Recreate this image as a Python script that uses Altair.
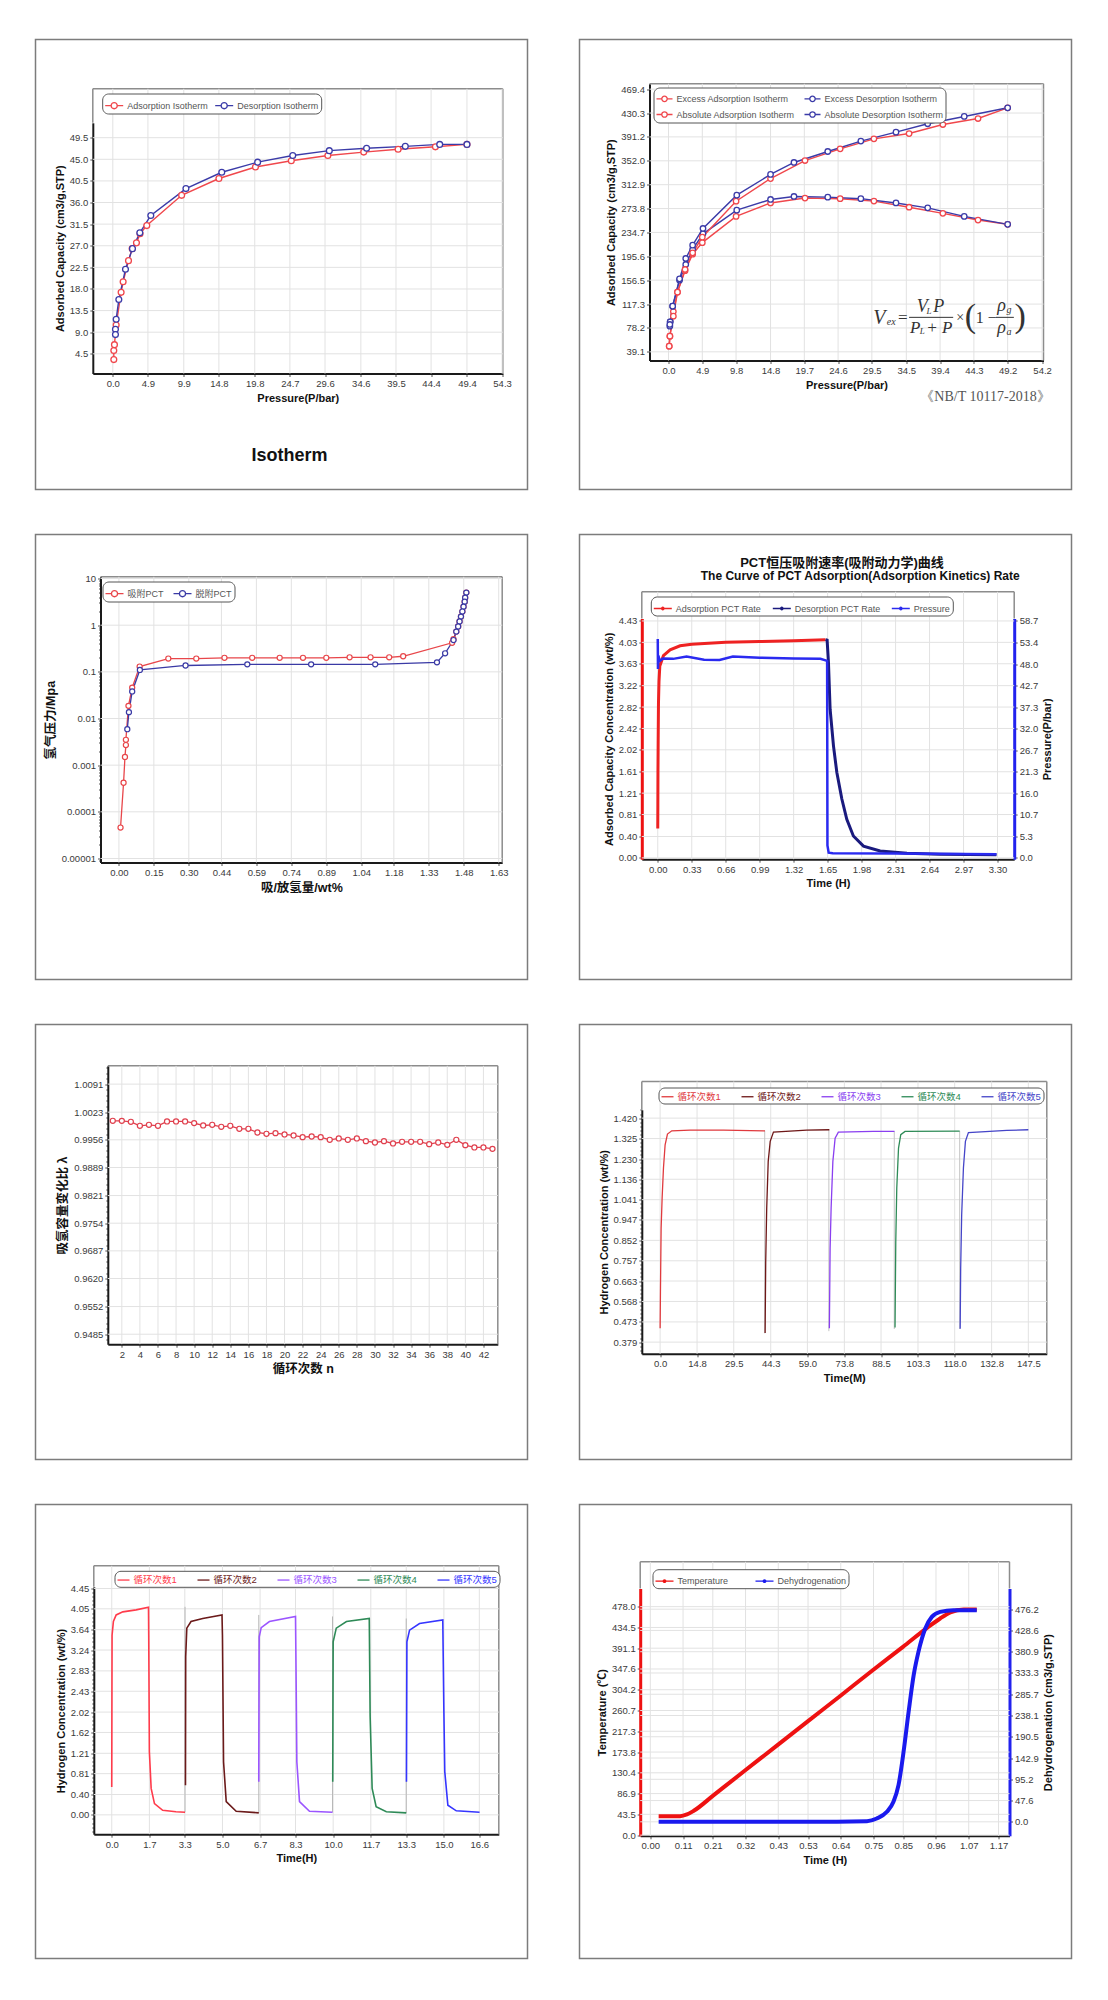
import json
import altair as alt
import pandas as pd

F = "Liberation Sans"
FC = "Liberation Sans, Noto Sans CJK SC"
FS = "Liberation Serif"
ONE = pd.DataFrame({"k": [0]})
PW = 492  # panel (outer box) width
GRID = "#e2e2e2"

# ================= DATA =================
# Panel 1 - Isotherm
P1_SERIES = ["Adsorption Isotherm", "Desorption Isotherm"]
P1_ADS_X = [0.14, 0.14, 0.23, 0.47, 1.16, 1.44, 2.19, 2.70, 3.30, 3.80, 4.74, 9.6, 14.8, 19.9, 24.9, 30.0, 35.0, 39.8, 45.0, 49.4]
P1_ADS_Y = [3.3, 5.2, 6.4, 10.5, 17.3, 19.5, 23.9, 26.4, 27.6, 29.5, 31.2, 37.5, 41.0, 43.4, 44.7, 45.8, 46.5, 47.1, 47.6, 48.1]
P1_DES_X = [49.4, 45.6, 40.8, 35.4, 30.2, 25.1, 20.2, 15.2, 10.2, 5.3, 3.77, 2.74, 1.77, 0.84, 0.47, 0.37, 0.37]
P1_DES_Y = [48.1, 48.1, 47.7, 47.3, 46.8, 45.8, 44.4, 42.3, 38.9, 33.3, 29.7, 26.4, 22.1, 15.8, 11.7, 9.6, 8.5]
P1_XT = [0.0, 4.9, 9.9, 14.8, 19.8, 24.7, 29.6, 34.6, 39.5, 44.4, 49.4, 54.3]
P1_YT = [4.5, 9.0, 13.5, 18.0, 22.5, 27.0, 31.5, 36.0, 40.5, 45.0, 49.5]

# Panel 2 - excess / absolute isotherms
P2_SERIES = ["Excess Adsorption Isotherm", "Excess Desorption Isotherm",
             "Absolute Adsorption Isotherm", "Absolute Desorption Isotherm"]
P2_ADS_X = [0.1, 0.2, 0.7, 1.3, 2.4, 3.5, 4.9, 9.8, 14.8, 19.8, 24.9, 29.8, 34.9, 39.8, 44.9, 49.2]
P2_DES_X = [49.2, 42.9, 37.6, 33.0, 27.9, 23.1, 18.2, 14.8, 9.9, 5.0, 3.5, 2.5, 1.6, 0.6, 0.24, 0.19]
P2_EXA_Y = [48.4, 64.8, 105.0, 137.0, 172.0, 199.0, 218.0, 261.0, 283.0, 291.0, 290.0, 286.0, 276.0, 266.0, 255.0, 248.0]
P2_EXD_Y = [248.0, 261.0, 275.0, 283.0, 290.0, 292.5, 293.6, 288.7, 271.2, 232.4, 206.8, 182.2, 156.5, 113.9, 88.3, 81.2]
P2_ABA_Y = [48.4, 64.8, 97.5, 136.9, 174.0, 201.3, 226.9, 285.9, 323.0, 352.5, 371.6, 388.0, 396.7, 411.5, 421.3, 438.9]
P2_ABD_Y = [438.9, 424.7, 412.7, 399.0, 384.3, 367.3, 349.3, 329.7, 295.8, 241.2, 213.9, 192.0, 158.7, 113.9, 88.3, 83.9]
P2_XT = [0.0, 4.9, 9.8, 14.8, 19.7, 24.6, 29.5, 34.5, 39.4, 44.3, 49.2, 54.2]
P2_YT = [39.1, 78.2, 117.3, 156.5, 195.6, 234.7, 273.8, 312.9, 352.0, 391.2, 430.3, 469.4]
# formula annotation pieces (data coordinates)
FORM_IT_T = ["V", "ex", "V", "L", "P", "P", "L", "+ P", "ρ", "g", "ρ", "a"]
FORM_IT_X = [30.6, 32.3, 36.8, 37.8, 39.2, 35.8, 36.8, 39.3, 48.3, 49.4, 48.3, 49.4]
FORM_IT_Y = [94.8, 88.3, 112.3, 106.5, 112.3, 78.4, 73.0, 78.4, 113.9, 107.5, 78.4, 72.0]
FORM_IT_S = [20, 10, 18, 9, 18, 17, 9, 17, 18, 10, 18, 10]
FORM_UP_T = ["=", "×", "(", "1 −", ")"]
FORM_UP_X = [34.0, 42.3, 43.8, 46.1, 51.0]
FORM_UP_Y = [94.8, 94.8, 95.5, 94.8, 95.5]
FORM_UP_S = [17, 14, 34, 16, 34]
FORM_BAR_X1 = [34.9, 47.5]
FORM_BAR_X2 = [41.3, 50.1]
FORM_BAR_Y = [95.6, 95.6]

# Panel 3 - PCT (log)
P3_SERIES = ["吸附PCT", "脱附PCT"]
P3_ADS_X = [0.007, 0.020, 0.026, 0.030, 0.030, 0.041, 0.057, 0.089, 0.212, 0.332, 0.453, 0.572, 0.690, 0.790,
            0.890, 0.990, 1.080, 1.160, 1.220, 1.430, 1.436, 1.448, 1.456, 1.462, 1.468, 1.474, 1.479, 1.484, 1.486, 1.491]
P3_ADS_Y = [4.6e-5, 4.2e-4, 1.5e-3, 2.7e-3, 3.5e-3, 0.0187, 0.046, 0.13, 0.193, 0.193, 0.2, 0.2, 0.2, 0.2,
            0.2, 0.205, 0.205, 0.205, 0.216, 0.42, 0.50, 0.73, 0.94, 1.2, 1.53, 1.96, 2.5, 3.2, 3.9, 5.0]
P3_DES_X = [1.491, 1.486, 1.484, 1.479, 1.474, 1.468, 1.462, 1.456, 1.448, 1.436, 1.400, 1.365, 1.100, 0.825,
            0.551, 0.286, 0.090, 0.057, 0.043, 0.036]
P3_DES_Y = [5.0, 3.9, 3.2, 2.5, 1.96, 1.53, 1.2, 0.94, 0.73, 0.48, 0.25, 0.16, 0.145, 0.145,
            0.145, 0.137, 0.11, 0.038, 0.0137, 0.0059]
P3_XT = [0.00, 0.15, 0.30, 0.44, 0.59, 0.74, 0.89, 1.04, 1.18, 1.33, 1.48, 1.63]
P3_YT = [0.00001, 0.0001, 0.001, 0.01, 0.1, 1, 10]

# Panel 4 - adsorption kinetics
P4_SERIES = ["Adsorption PCT Rate", "Desorption PCT Rate", "Pressure"]
P4_ADS_T = [0.0, 0.001, 0.002, 0.004, 0.007, 0.012, 0.02, 0.055, 0.12, 0.217, 0.33, 0.66, 0.99, 1.32, 1.63]
P4_ADS_Y = [0.55, 1.0, 1.6, 2.2, 2.9, 3.3, 3.59, 3.78, 3.89, 3.965, 3.996, 4.03, 4.046, 4.06, 4.08]
P4_DES_T = [1.63, 1.645, 1.658, 1.674, 1.707, 1.739, 1.788, 1.836, 1.90, 1.998, 2.16, 2.42, 2.74, 3.29]
P4_DES_Y = [4.08, 4.07, 3.65, 2.78, 2.09, 1.60, 1.10, 0.72, 0.41, 0.22, 0.13, 0.087, 0.069, 0.056]
P4_PRS_T = [0.0, 0.002, 0.006, 0.02, 0.05, 0.15, 0.28, 0.45, 0.6, 0.73, 0.99, 1.32, 1.58, 1.645, 1.648, 1.66, 1.70, 2.3, 3.29]
P4_PRS_P = [54.2, 46.8, 50.1, 48.8, 49.4, 49.3, 49.9, 49.1, 49.0, 49.9, 49.6, 49.4, 49.3, 48.8, 3.1, 1.3, 1.16, 1.07, 0.9]
P4_XT = [0.00, 0.33, 0.66, 0.99, 1.32, 1.65, 1.98, 2.31, 2.64, 2.97, 3.30]
P4_YT = [0.00, 0.40, 0.81, 1.21, 1.61, 2.02, 2.42, 2.82, 3.22, 3.63, 4.03, 4.43]
P4_Y2T = [0.0, 5.3, 10.7, 16.0, 21.3, 26.7, 32.0, 37.3, 42.7, 48.0, 53.4, 58.7]

# Panel 5 - capacity ratio vs cycle
P5_N = list(range(1, 44))
P5_Y = [1.00021, 1.0002, 0.99997, 0.99900, 0.99924, 0.99900, 1.00005, 1.00005, 1.00005, 0.99965,
        0.99908, 0.99924, 0.99876, 0.99900, 0.99827, 0.99827, 0.99738, 0.99706, 0.99722, 0.99690,
        0.99666, 0.99625, 0.99641, 0.99625, 0.99561, 0.99593, 0.99561, 0.99593, 0.99528, 0.99496,
        0.99528, 0.99472, 0.99512, 0.99512, 0.99512, 0.99455, 0.99496, 0.99439, 0.99561, 0.99431,
        0.99375, 0.99375, 0.99342]
P5_XT = list(range(2, 43, 2))
P5_YT = [0.9485, 0.9552, 0.9620, 0.9687, 0.9754, 0.9821, 0.9889, 0.9956, 1.0023, 1.0091]

# Panel 6 - cycles (minutes)
CYC = ["循环次数1", "循环次数2", "循环次数3", "循环次数4", "循环次数5"]
P6_T = [[0.0, 0.13, 0.4, 0.8, 1.34, 2.0, 2.94, 4.67, 12.0, 25.4, 42.0],
        [42.06, 42.3, 42.7, 43.3, 44.1, 45.4, 58.7, 67.8],
        [67.8, 68.1, 68.5, 69.2, 70.1, 71.4, 85.4, 93.9],
        [94.1, 94.4, 94.8, 95.5, 96.4, 98.1, 120.0],
        [120.2, 120.4, 120.8, 121.5, 122.3, 123.5, 138.9, 147.5]]
P6_Y = [[0.444, 0.614, 0.909, 1.048, 1.188, 1.296, 1.346, 1.361, 1.364, 1.364, 1.361],
        [0.421, 0.754, 1.002, 1.219, 1.312, 1.355, 1.364, 1.366],
        [0.444, 0.816, 1.002, 1.219, 1.327, 1.355, 1.358, 1.358],
        [0.447, 0.847, 1.095, 1.281, 1.343, 1.358, 1.360],
        [0.441, 0.723, 0.971, 1.188, 1.312, 1.353, 1.363, 1.366]]
P6_GAP_T = [41.9, 67.6, 93.8, 120.0]
P6_GAP_TOP = [1.362, 1.366, 1.358, 1.360]
P6_GAP_BOT = [0.42, 0.43, 0.44, 0.44]
P6_XT = [0.0, 14.8, 29.5, 44.3, 59.0, 73.8, 88.5, 103.3, 118.0, 132.8, 147.5]
P6_YT = [0.379, 0.473, 0.568, 0.663, 0.757, 0.852, 0.947, 1.041, 1.136, 1.230, 1.325, 1.420]
P6_COLORS = ["#e03a3e", "#6e1717", "#8a3ff0", "#2e8b57", "#4545c8"]

# Panel 7 - cycles (hours)
P7_T = [[0.0, 0.015, 0.075, 0.2, 0.5, 1.1, 1.66, 1.67, 1.70, 1.78, 1.93, 2.3, 2.9, 3.31],
        [3.33, 3.34, 3.39, 3.58, 4.11, 4.98, 5.0, 5.05, 5.17, 5.62, 6.64],
        [6.64, 6.66, 6.75, 7.12, 8.30, 8.32, 8.36, 8.48, 8.93, 9.97],
        [9.98, 10.0, 10.14, 10.6, 11.63, 11.67, 11.76, 11.94, 12.4, 13.3],
        [13.31, 13.33, 13.45, 13.9, 14.95, 15.0, 15.04, 15.18, 15.56, 16.61]]
P7_Y = [[0.55, 3.53, 3.80, 3.93, 3.99, 4.03, 4.08, 3.53, 1.24, 0.52, 0.22, 0.09, 0.06, 0.05],
        [0.58, 3.11, 3.67, 3.80, 3.86, 3.93, 3.53, 1.04, 0.26, 0.07, 0.04],
        [0.65, 3.50, 3.68, 3.80, 3.90, 3.0, 1.04, 0.26, 0.07, 0.05],
        [0.65, 3.40, 3.67, 3.80, 3.86, 1.93, 0.52, 0.16, 0.06, 0.04],
        [0.65, 3.40, 3.63, 3.76, 3.83, 2.03, 0.85, 0.19, 0.08, 0.05]]
P7_GAP_T = [3.31, 6.64, 9.97, 13.3]
P7_GAP_TOP = [4.09, 3.93, 3.90, 3.86]
P7_GAP_BOT = [0.05, 0.04, 0.05, 0.04]
P7_XT = [0.0, 1.7, 3.3, 5.0, 6.7, 8.3, 10.0, 11.7, 13.3, 15.0, 16.6]
P7_YT = [0.00, 0.40, 0.81, 1.21, 1.62, 2.02, 2.43, 2.83, 3.24, 3.64, 4.05, 4.45]
P7_COLORS = ["#ff3b4b", "#6b1a1a", "#9b55ff", "#2e8a57", "#3535ff"]

# Panel 8 - temperature programmed desorption
P8_SERIES = ["Temperature", "Dehydrogenation"]
P8_TEMP_T = [0.028, 0.10, 0.123, 0.146, 0.213, 0.317, 0.423, 0.53, 0.636, 0.742, 0.849, 0.93, 0.974, 1.008, 1.053, 1.097]
P8_TEMP_Y = [39.7, 39.7, 43.2, 50.9, 83.7, 134.6, 186.2, 238.5, 290.1, 342.4, 394.0, 433.7, 453.3, 465.8, 472.1, 472.1]
P8_DEH_T = [0.028, 0.19, 0.302, 0.526, 0.728, 0.761, 0.795, 0.817, 0.834, 0.851, 0.868, 0.885, 0.901, 0.924, 0.946, 0.974, 1.019, 1.097]
P8_DEH_Y = [0.0, 0.0, 0.0, 0.0, 1.5, 7.5, 22.4, 44.8, 82.1, 156.7, 246.3, 328.4, 380.6, 432.9, 459.0, 470.2, 474.0, 474.0]
P8_XT = [0.00, 0.11, 0.21, 0.32, 0.43, 0.53, 0.64, 0.75, 0.85, 0.96, 1.07, 1.17]
P8_YT = [0.0, 43.5, 86.9, 130.4, 173.8, 217.3, 260.7, 304.2, 347.6, 391.1, 434.5, 478.0]
P8_Y2T = [0.0, 47.6, 95.2, 142.9, 190.5, 238.1, 285.7, 333.3, 380.9, 428.6, 476.2]

RED = "#f0474c"
BLUE = "#3b3ba8"

SYM_CIRC = "M-1,0L-0.34,0M0.34,0L1,0M0.34,0A0.34,0.34,0,1,1,-0.34,0A0.34,0.34,0,1,1,0.34,0"
SYM_LINE = "M-1,0L1,0"
SYM_DOT = "M-1,0L1,0M0.14,0A0.14,0.14,0,1,1,-0.14,0A0.14,0.14,0,1,1,0.14,0"


# ================= HELPERS =================
def sdf(names, xs_list, ys_list):
    rows = []
    for n, xs, ys in zip(names, xs_list, ys_list):
        for i, (a, b) in enumerate(zip(xs, ys)):
            rows.append({"s": n, "x": a, "y": b, "i": i})
    return pd.DataFrame(rows)


def sc(lo, hi, rng, **kw):
    return alt.Scale(domain=[lo, hi], range=rng, nice=False, zero=False, **kw)


def ax(title, values, fmt, tfont=F, tsize=11, **kw):
    d = dict(title=title, values=values, format=fmt, grid=False,
             domainColor="#1a1a1a", domainWidth=2, tickColor="#555", tickSize=3, tickWidth=1,
             labelFont=F, labelFontSize=9.5, labelColor="#3a3a3a", labelPadding=2,
             labelOverlap=False, labelFlush=False, titleFont=tfont, titleFontSize=tsize,
             titleFontWeight="bold", titleColor="#111", titlePadding=4)
    d.update(kw)
    return alt.Axis(**d)


def minor_ax(title, majors, minors, fmt, **kw):
    test = "indexof(%s, datum.value) >= 0" % json.dumps(majors)
    return ax(title, sorted(majors + minors), fmt,
              labelExpr="%s ? format(datum.value, '%s') : ''" % (test, fmt),
              tickSize={"condition": {"test": test, "value": 3}, "value": 2}, **kw)


def leg(x, y, cols, sym, size, colpad=4, lfont=F, lcolor="#555", lsize=9, rowpad=1):
    return alt.Legend(title=None, orient="none", legendX=x, legendY=y, direction="horizontal",
                      columns=cols, symbolType=sym, symbolSize=size, symbolStrokeWidth=1.3,
                      labelFont=lfont, labelFontSize=lsize, labelColor=lcolor, columnPadding=colpad,
                      rowPadding=rowpad, padding=2, strokeColor="#555", cornerRadius=6,
                      fillColor="white", labelOffset=3)


def frame(H, x0, x1, ftop, atop, abot, right_axis=False):
    layers = [alt.Chart(ONE).mark_rect(filled=False, stroke="#7c7c7c", strokeWidth=1.5).encode(
        x=alt.value(0), x2=alt.value(PW), y=alt.value(0), y2=alt.value(H))]
    g = dict(color="#8c8c8c", strokeWidth=1.5)
    layers.append(alt.Chart(ONE).mark_rule(**g).encode(x=alt.value(x0), x2=alt.value(x1), y=alt.value(ftop)))
    layers.append(alt.Chart(ONE).mark_rule(**g).encode(
        x=alt.value(x1), y=alt.value(ftop), y2=alt.value(atop if right_axis else abot)))
    if atop > ftop:
        layers.append(alt.Chart(ONE).mark_rule(**g).encode(x=alt.value(x0), y=alt.value(ftop), y2=alt.value(atop)))
    return layers


def vgrid(vals, X, g):
    # vertical grid lines at the x ticks, from frame top down to the x axis
    return alt.Chart(pd.DataFrame({"x": vals})).mark_rule(color=GRID, strokeWidth=1).encode(
        X, y=alt.value(g[2]), y2=alt.value(g[4]))


def hgrid(vals, Y, g):
    # horizontal grid lines at the y ticks, across the plot frame
    return alt.Chart(pd.DataFrame({"y": vals})).mark_rule(color=GRID, strokeWidth=1).encode(
        Y, x=alt.value(g[0]), x2=alt.value(g[1]))


def txt(text, x, y, size, weight="normal", font=F, color="#111"):
    return alt.Chart(ONE).mark_text(text=text, fontSize=size, fontWeight=weight, font=font, color=color,
                                    align="center", baseline="middle").encode(x=alt.value(x), y=alt.value(y))


# ================= PANEL 1 =================
H1 = 450
g1 = (57.3, 467.3, 49.3, 83.3, 334.0)
X1 = alt.X("x:Q", scale=sc(-2.79, 54.4, [g1[0], g1[1]]),
           axis=ax("Pressure(P/bar)", P1_XT, ".1f", offset=g1[4] - H1))
Y1 = alt.Y("y:Q", scale=sc(0.4, 52.6, [g1[4], g1[3]]),
           axis=ax("Adsorbed Capacity (cm3/g,STP)", P1_YT, ".1f", offset=-g1[0]))
C1 = alt.Color("s:N", scale=alt.Scale(domain=P1_SERIES, range=[RED, BLUE]),
               legend=leg(66.7, 54, 2, SYM_CIRC, 324, 4))
d1 = sdf(P1_SERIES, [P1_ADS_X, P1_DES_X], [P1_ADS_Y, P1_DES_Y])
p1 = alt.layer(
    *frame(H1, *g1),
    vgrid(P1_XT, X1, g1), hgrid(P1_YT, Y1, g1),
    alt.Chart(d1).mark_line(strokeWidth=1.4).encode(X1, Y1, C1, order="i:Q"),
    alt.Chart(d1).mark_point(filled=False, fill="white", size=34, strokeWidth=1.3, opacity=1).encode(X1, Y1, C1),
    txt("Isotherm", 254, 416, 18, "bold"),
).properties(width=PW, height=H1)

# ================= PANEL 2 =================
H2 = 450
g2 = (70.0, 464.0, 44.3, 44.3, 321.0)
X2 = alt.X("x:Q", scale=sc(-2.76, 54.4, [g2[0], g2[1]]),
           axis=ax("Pressure(P/bar)", P2_XT, ".1f", offset=g2[4] - H2))
Y2 = alt.Y("y:Q", scale=sc(24.9, 478.2, [g2[4], g2[3]]),
           axis=ax("Adsorbed Capacity (cm3/g,STP)", P2_YT, ".1f", offset=-g2[0]))
C2 = alt.Color("s:N", scale=alt.Scale(domain=P2_SERIES, range=[RED, BLUE, RED, BLUE]),
               legend=leg(74, 48, 2, SYM_CIRC, 256, 6))
d2 = sdf(P2_SERIES, [P2_ADS_X, P2_DES_X, P2_ADS_X, P2_DES_X], [P2_EXA_Y, P2_EXD_Y, P2_ABA_Y, P2_ABD_Y])
f_it = pd.DataFrame({"t": FORM_IT_T, "x": FORM_IT_X, "y": FORM_IT_Y, "fs": FORM_IT_S})
f_up = pd.DataFrame({"t": FORM_UP_T, "x": FORM_UP_X, "y": FORM_UP_Y, "fs": FORM_UP_S})
f_bar = pd.DataFrame({"x": FORM_BAR_X1, "x2": FORM_BAR_X2, "y": FORM_BAR_Y})
p2 = alt.layer(
    *frame(H2, *g2),
    vgrid(P2_XT, X2, g2), hgrid(P2_YT, Y2, g2),
    alt.Chart(d2).mark_line(strokeWidth=1.4).encode(X2, Y2, C2, order="i:Q"),
    alt.Chart(d2).mark_point(filled=False, fill="white", size=30, strokeWidth=1.3, opacity=1).encode(X2, Y2, C2),
    alt.Chart(f_it).mark_text(font=FS, fontStyle="italic", color="#333", align="center", baseline="middle").encode(
        X2, Y2, text="t:N", size=alt.Size("fs:Q", scale=None)),
    alt.Chart(f_up).mark_text(font=FS, color="#333", align="center", baseline="middle").encode(
        X2, Y2, text="t:N", size=alt.Size("fs:Q", scale=None)),
    alt.Chart(f_bar).mark_rule(color="#333", strokeWidth=1).encode(X2, Y2, x2="x2:Q"),
    txt("《NB/T  10117-2018》", 406, 357, 14, font=FS, color="#555"),
).properties(width=PW, height=H2)

# ================= PANEL 3 =================
H3 = 445
g3 = (65.0, 466.7, 42.3, 42.3, 328.0)
p3_minor = [m * 10.0 ** e for e in range(-6, 2) for m in range(2, 10) if 8.2e-6 <= m * 10.0 ** e <= 10.9]
X3 = alt.X("x:Q", scale=sc(-0.079, 1.645, [g3[0], g3[1]]),
           axis=ax("吸/放氢量/wt%", P3_XT, ".2f", tfont=FC, tsize=12.5, offset=g3[4] - H3))
Y3 = alt.Y("y:Q", scale=alt.Scale(type="log", domain=[8.2e-6, 10.9], range=[g3[4], g3[3]], nice=False),
           axis=minor_ax("氢气压力/Mpa", P3_YT, p3_minor, ".5~f", tfont=FC, tsize=12.5, offset=-g3[0]))
C3 = alt.Color("s:N", scale=alt.Scale(domain=P3_SERIES, range=["#e8464a", "#3a3aa5"]),
               legend=leg(67, 47, 2, SYM_CIRC, 324, 6, lfont=FC))
d3 = sdf(P3_SERIES, [P3_ADS_X, P3_DES_X], [P3_ADS_Y, P3_DES_Y])
p3 = alt.layer(
    *frame(H3, *g3),
    vgrid(P3_XT, X3, g3), hgrid(P3_YT, Y3, g3),
    alt.Chart(d3).mark_line(strokeWidth=1.3).encode(X3, Y3, C3, order="i:Q"),
    alt.Chart(d3).mark_point(filled=False, fill="white", size=26, strokeWidth=1.2, opacity=1).encode(X3, Y3, C3),
).properties(width=PW, height=H3)

# ================= PANEL 4 =================
H4 = 445
g4 = (62.3, 434.7, 57.3, 84.0, 324.7)
X4 = alt.X("x:Q", scale=sc(-0.155, 3.462, [g4[0], g4[1]]),
           axis=ax("Time (H)", P4_XT, ".2f", offset=g4[4] - H4))
C4 = alt.Color("s:N", scale=alt.Scale(domain=P4_SERIES, range=["#ee2222", "#1a1a7e", "#2a2af0"]),
               legend=leg(71.3, 62, 3, SYM_DOT, 324, 8))
d4a = sdf(P4_SERIES[:2], [P4_ADS_T, P4_DES_T], [P4_ADS_Y, P4_DES_Y])
d4b = sdf(P4_SERIES[2:], [P4_PRS_T], [P4_PRS_P])
S4 = sc(-0.025, 4.476, [g4[4], g4[3]])
Y4 = alt.Y("y:Q", scale=S4,
           axis=ax("Adsorbed Capacity Concentration (wt/%)", P4_YT, ".2f", domainColor="#ee1111",
                   domainWidth=3, offset=-g4[0]))
Y4b = alt.Y("y:Q", scale=sc(-0.33, 59.3, [g4[4], g4[3]]),
            axis=ax("Pressure(P/bar)", P4_Y2T, ".1f", orient="right", domainColor="#2222ee", domainWidth=3,
                    titleAngle=270, titleBaseline="top", offset=g4[1] - PW))
p4 = alt.layer(
    *frame(H4, *g4, right_axis=True),
    vgrid(P4_XT, X4, g4), hgrid(P4_YT, alt.Y("y:Q", scale=S4, axis=None), g4),
    alt.Chart(d4a).mark_line(strokeWidth=3).encode(X4, Y4, C4, order="i:Q"),
    alt.Chart(d4b).mark_line(strokeWidth=2.5).encode(X4, Y4b, C4, order="i:Q"),
    txt("PCT恒压吸附速率(吸附动力学)曲线", 262.5, 28, 13, "bold", font=FC),
    txt("The Curve of PCT Adsorption(Adsorption Kinetics) Rate", 280.7, 41.3, 12, "bold"),
).resolve_scale(y="independent").properties(width=PW, height=H4)

# ================= PANEL 5 =================
H5 = 435
g5 = (72.3, 462.3, 41.3, 41.3, 319.7)
st5 = (1.0091 - 0.9485) / 9 / 5
p5_minor = [round(0.9485 + k * st5, 6) for k in range(-1, 49) if k % 5 != 0]
X5 = alt.X("x:Q", scale=sc(0.45, 43.59, [g5[0], g5[1]]),
           axis=ax("循环次数 n", P5_XT, "d", tfont=FC, tsize=12.5, offset=g5[4] - H5))
Y5 = alt.Y("y:Q", scale=sc(0.94608, 1.01354, [g5[4], g5[3]]),
           axis=minor_ax("吸氢容量变化比 λ", P5_YT, p5_minor, ".4f", tfont=FC, tsize=12.5, offset=-g5[0]))
d5 = pd.DataFrame({"x": P5_N, "y": P5_Y})
p5 = alt.layer(
    *frame(H5, *g5),
    vgrid(P5_XT, X5, g5), hgrid(P5_YT, Y5, g5),
    alt.Chart(d5).mark_line(strokeWidth=1.3, color="#e0404e").encode(X5, Y5),
    alt.Chart(d5).mark_point(filled=False, fill="white", size=26, strokeWidth=1.2, opacity=1,
                             color="#e0404e").encode(X5, Y5),
).properties(width=PW, height=H5)

# ================= PANEL 6 =================
H6 = 435
g6g = (62.3, 467.3, 57.0, 85.3, 329.3)
st6 = (1.420 - 0.379) / 11 / 5
p6_minor = [round(0.379 + k * st6, 5) for k in range(-2, 58) if k % 5 != 0]
X6 = alt.X("x:Q", scale=sc(-7.34, 154.9, [g6g[0], g6g[1]]),
           axis=ax("Time(M)", P6_XT, ".1f", offset=g6g[4] - H6))
Y6 = alt.Y("y:Q", scale=sc(0.3248, 1.4587, [g6g[4], g6g[3]]),
           axis=minor_ax("Hydrogen Concentration (wt/%)", P6_YT, p6_minor, ".3f", offset=-g6g[0]))


def cyc_expr(colors):
    e = "'%s'" % colors[-1]
    for n, c in reversed(list(zip(CYC[:-1], colors[:-1]))):
        e = "datum.label == '%s' ? '%s' : (%s)" % (n, c, e)
    return {"expr": e}


C6 = alt.Color("s:N", scale=alt.Scale(domain=CYC, range=P6_COLORS),
               legend=leg(79, 63, 5, SYM_LINE, 144, 17, lfont=FC, lcolor=cyc_expr(P6_COLORS), lsize=9.5))
d6 = sdf(CYC, P6_T, P6_Y)
gap6 = pd.DataFrame({"x": P6_GAP_T, "y": P6_GAP_TOP, "y2": P6_GAP_BOT})
p6 = alt.layer(
    *frame(H6, *g6g),
    vgrid(P6_XT, X6, g6g), hgrid(P6_YT, Y6, g6g),
    alt.Chart(gap6).mark_rule(color="#c4c4c4", strokeWidth=1).encode(X6, Y6, y2="y2:Q"),
    alt.Chart(d6).mark_line(strokeWidth=1.3).encode(X6, Y6, C6, order="i:Q"),
).properties(width=PW, height=H6)

# ================= PANEL 7 =================
H7 = 454
g7g = (58.3, 463.3, 61.3, 82.3, 329.7)
st7 = 4.45 / 11 / 5
p7_minor = [round(k * st7, 5) for k in range(-4, 56) if k % 5 != 0]
X7 = alt.X("x:Q", scale=sc(-0.81, 17.48, [g7g[0], g7g[1]]),
           axis=ax("Time(H)", P7_XT, ".1f", offset=g7g[4] - H7))
Y7 = alt.Y("y:Q", scale=sc(-0.38, 4.483, [g7g[4], g7g[3]]),
           axis=minor_ax("Hydrogen Concentration (wt/%)", P7_YT, p7_minor, ".2f", offset=-g7g[0]))
C7 = alt.Color("s:N", scale=alt.Scale(domain=CYC, range=P7_COLORS),
               legend=leg(79, 66.3, 5, SYM_LINE, 144, 17, lfont=FC, lcolor=cyc_expr(P7_COLORS), lsize=9.5))
d7 = sdf(CYC, P7_T, P7_Y)
gap7 = pd.DataFrame({"x": P7_GAP_T, "y": P7_GAP_TOP, "y2": P7_GAP_BOT})
p7 = alt.layer(
    *frame(H7, *g7g),
    vgrid(P7_XT, X7, g7g), hgrid(P7_YT, Y7, g7g),
    alt.Chart(gap7).mark_rule(color="#b8b8b8", strokeWidth=1).encode(X7, Y7, y2="y2:Q"),
    alt.Chart(d7).mark_line(strokeWidth=1.6).encode(X7, Y7, C7, order="i:Q"),
).properties(width=PW, height=H7)

# ================= PANEL 8 =================
H8 = 454
g8 = (60.7, 430.0, 57.3, 84.0, 331.3)
X8 = alt.X("x:Q", scale=sc(-0.034, 1.207, [g8[0], g8[1]]),
           axis=ax("Time (H)", P8_XT, ".2f", offset=g8[4] - H8))
C8 = alt.Color("s:N", scale=alt.Scale(domain=P8_SERIES, range=["#ee1111", "#1a1aee"]),
               legend=leg(73, 64.7, 2, SYM_DOT, 324, 24))
d8a = sdf(P8_SERIES[:1], [P8_TEMP_T], [P8_TEMP_Y])
d8b = sdf(P8_SERIES[1:], [P8_DEH_T], [P8_DEH_Y])
S8 = sc(-1.4, 516, [g8[4], g8[3]])
S8b = sc(-31.3, 522.5, [g8[4], g8[3]])
Y8 = alt.Y("y:Q", scale=S8,
           axis=ax("Temperature (℃)", P8_YT, ".1f", domainColor="#ee1111", domainWidth=3, titleFont=FC,
                   offset=-g8[0]))
Y8b = alt.Y("y:Q", scale=S8b,
            axis=ax("Dehydrogenation (cm3/g,STP)", P8_Y2T, ".1f", orient="right", domainColor="#2222ee",
                    domainWidth=3, titleAngle=270, titleBaseline="top", offset=g8[1] - PW))
p8 = alt.layer(
    *frame(H8, *g8, right_axis=True),
    vgrid(P8_XT, X8, g8),
    hgrid(P8_YT, alt.Y("y:Q", scale=S8, axis=None), g8),
    hgrid(P8_Y2T, alt.Y("y:Q", scale=S8b, axis=None), g8),
    alt.Chart(d8a).mark_line(strokeWidth=4, interpolate="monotone").encode(X8, Y8, C8, order="i:Q"),
    alt.Chart(d8b).mark_line(strokeWidth=4, interpolate="monotone").encode(X8, Y8b, C8, order="i:Q"),
).resolve_scale(y="independent").properties(width=PW, height=H8)

# ================= LAYOUT =================
rows = [alt.hconcat(a, b, spacing=50).resolve_scale(color="independent")
        for a, b in [(p1, p2), (p3, p4), (p5, p6), (p7, p8)]]
chart = alt.vconcat(*rows, spacing=43).resolve_scale(color="independent").properties(
    padding={"left": 26.5, "top": 30.5, "right": 5, "bottom": 5}, background="white"
).configure_view(strokeWidth=0)

chart.save("out.html", embed_options={"renderer": "svg", "actions": False})
